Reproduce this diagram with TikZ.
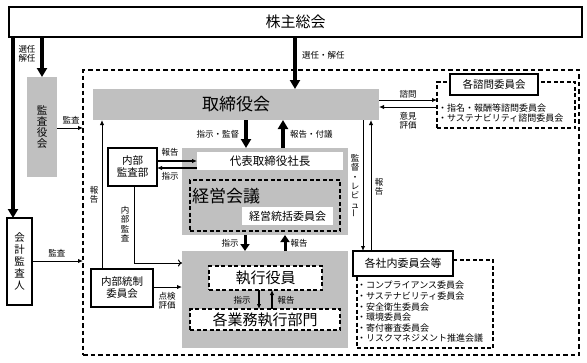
\documentclass[tikz,border=0pt]{standalone}
\usepackage{fontspec}
\setmainfont{Noto Sans CJK JP}
\usepackage{graphicx}
\usetikzlibrary{arrows.meta,calc}
\definecolor{gbox}{RGB}{192,192,192}
\begin{document}
\begin{tikzpicture}[x=1pt,y=-1pt,
  every node/.style={inner sep=0pt, outer sep=0pt},
  sbox/.style={draw, line width=1.2pt, fill=white, anchor=north west},
  gbx/.style={fill=gbox, draw=none, anchor=north west},
  wbx/.style={fill=white, draw=none, anchor=north west},
  dbx/.style={draw, line width=1.2pt, dash pattern=on 4pt off 2.5pt, fill=white, anchor=north west},
  lb/.style={font=\fontsize{8.5}{9.5}\selectfont},
  thk/.style={line width=3.5pt, -{Triangle[length=9pt,width=10pt]}},
  thkb/.style={line width=3pt, -{Triangle[length=7pt,width=9pt]}},
  med/.style={line width=1.3pt, -{Latex[length=5pt,width=4.5pt]}},
  thn/.style={line width=1pt, -{Latex[length=5pt,width=4.5pt]}},
  opn/.style={line width=1pt, -{To[length=4pt,width=7pt]}},
]
\useasboundingbox (0,0) rectangle (587,362);

% outer dashed frame
\node[draw, line width=1.3pt, dash pattern=on 4.5pt off 3pt, anchor=north west,
      minimum width=496pt, minimum height=285pt] (outer) at (83,70) {};

% shareholders meeting
\node[sbox, line width=1.4pt, minimum width=573pt, minimum height=30pt,
      font=\fontsize{15}{15}\selectfont] (kabu) at (9,7) {株主総会};

% audit board, accounting auditor
\node[gbx, minimum width=30pt, minimum height=100pt, align=center,
      font=\fontsize{10.5}{11}\selectfont] (kansa) at (27,77) {監\\査\\役\\会};
\node[sbox, minimum width=25pt, minimum height=87pt, align=center,
      font=\fontsize{10.5}{12}\selectfont] (kaikei) at (7,218) {会\\計\\監\\査\\人};

% board of directors
\node[gbx, minimum width=286pt, minimum height=31pt,
      font=\fontsize{17}{17}\selectfont] (tori) at (93,89) {取締役会};

% advisory committees
\node[dbx, minimum width=138pt, minimum height=46pt] (shimon) at (437,82) {};
\node[sbox, minimum width=88pt, minimum height=21pt,
      font=\fontsize{10.5}{11}\selectfont] (shimonT) at (450,74) {各諮問委員会};
\node[anchor=west, align=left, font=\fontsize{9}{10}\selectfont] (shimonL) at (438,113)
      {・指名・報酬等諮問委員会\\・サステナビリティ諮問委員会};

% management block
\node[gbx, minimum width=166pt, minimum height=87pt] (g2) at (182,148) {};
\node[wbx, minimum width=146pt, minimum height=18pt,
      font=\fontsize{11.5}{12}\selectfont] (ceo) at (197,152) {代表取締役社長};
\node[dbx, fill=none, minimum width=150pt, minimum height=51pt] (kk) at (190,180) {};
\node[anchor=west, font=\fontsize{17}{17}\selectfont] (kkT) at (192,196) {経営会議};
\node[wbx, minimum width=91pt, minimum height=18pt,
      font=\fontsize{11}{11}\selectfont] (kt) at (242,207) {経営統括委員会};

% execution block
\node[gbx, minimum width=166pt, minimum height=97pt] (g3) at (182,251) {};
\node[dbx, minimum width=113pt, minimum height=24pt,
      font=\fontsize{15}{15}\selectfont] (shikko) at (209,266) {執行役員};
\node[dbx, minimum width=150pt, minimum height=21pt,
      font=\fontsize{15}{15}\selectfont] (gyomu) at (190,309) {各業務執行部門};

% internal audit & internal control
\node[sbox, minimum width=49pt, minimum height=38pt, align=center,
      font=\fontsize{10.5}{12}\selectfont] (naibu) at (108,148) {内部\\監査部};
\node[sbox, minimum width=62pt, minimum height=38pt, align=center,
      font=\fontsize{10.5}{12}\selectfont] (tosei) at (91,269) {内部統制\\委員会};

% in-house committees
\node[dbx, minimum width=136pt, minimum height=88pt] (shalist) at (357,260) {};
\node[sbox, minimum width=100pt, minimum height=25pt,
      font=\fontsize{11}{11}\selectfont] (sha) at (353,251) {各社内委員会等};
\node[anchor=west, align=left, font=\fontsize{9}{10.6}\selectfont] (items) at (357,312)
      {・コンプライアンス委員会\\・サステナビリティ委員会\\・安全衛生委員会\\・環境委員会\\・寄付審査委員会\\・リスクマネジメント推進会議};

% ---- connectors ----
\draw[thk] (13,0 |- kabu.south) -- (13,0 |- kaikei.north);
\draw[thk] (kabu.south -| kansa.north) -- (kansa.north);
\node[lb, align=center] (lsen1) at (27,54) {選任\\解任};
\draw[thk] (295,0 |- kabu.south) -- (295,0 |- tori.north);
\node[lb, anchor=west] (lsen2) at (302,55) {選任・解任};

\draw[thn] (kansa.east |- 0,128) -- (outer.west |- 0,128);
\node[lb] (lk1) at (71,120) {監査};
\draw[thn] (kaikei.east |- 0,261) -- (outer.west |- 0,261);
\node[lb] (lk2) at (57,253) {監査};

\draw[thn] (tori.east |- 0,100) -- (shimon.west |- 0,100);
\draw[thn] (shimon.west |- 0,107) -- (tori.east |- 0,107);
\node[lb] (lsh) at (408,94) {諮問};
\node[lb, align=center] (lik) at (408,121) {意見\\評価};

\draw[thk] (246,0 |- tori.south) -- (246,0 |- g2.north);
\node[lb, anchor=east] (lsk) at (239,134) {指示・監督};
\draw[thk] (283,0 |- g2.north) -- (283,0 |- tori.south);
\node[lb, anchor=west] (lhf) at (290,134) {報告・付議};

\draw[med] (naibu.east |- 0,161) -- (ceo.west |- 0,161);
\draw[med] (ceo.west |- 0,168) -- (naibu.east |- 0,168);
\node[lb] (lnh) at (170,152) {報告};
\node[lb] (lns) at (170,176) {指示};

\draw[thkb] (245,0 |- g2.south) -- (245,0 |- g3.north);
\node[lb] (lsj) at (230,243) {指示};
\draw[thkb] (285,0 |- g3.north) -- (285,0 |- g2.south);
\node[lb] (lhk) at (299,243) {報告};

\draw[med] (259,0 |- shikko.south) -- (259,0 |- gyomu.north);
\draw[med] (272,0 |- gyomu.north) -- (272,0 |- shikko.south);
\node[lb] (lsj2) at (242,300) {指示};
\node[lb] (lhk2) at (286,300) {報告};

\draw[thn] (102,0 |- tosei.north) -- (102,0 |- tori.south);
\node[lb, align=center] (lhv) at (94,195) {報\\告};
\draw[opn] (134,0 |- naibu.south) |- (g3.west |- 0,263);
\node[lb, align=center] (lnk) at (125,224) {内\\部\\監\\査};
\draw[thn] (tosei.east |- 0,287) -- (g3.west |- 0,287);
\node[lb, align=center] (ltk) at (167,301) {点検\\評価};

\draw[thn] (363,0 |- tori.south) -- (363,0 |- sha.north);
\draw[thn] (371,0 |- sha.north) -- (371,0 |- tori.south);
\node[lb, align=center, font=\fontsize{8.5}{9.3}\selectfont] (lkr) at (355,186)
     {監\\督\\・\\レ\\ビ\\ュ\\\rotatebox{90}{ー}};
\node[lb, align=center] (lhv2) at (379,187) {報\\告};
\end{tikzpicture}
\end{document}
